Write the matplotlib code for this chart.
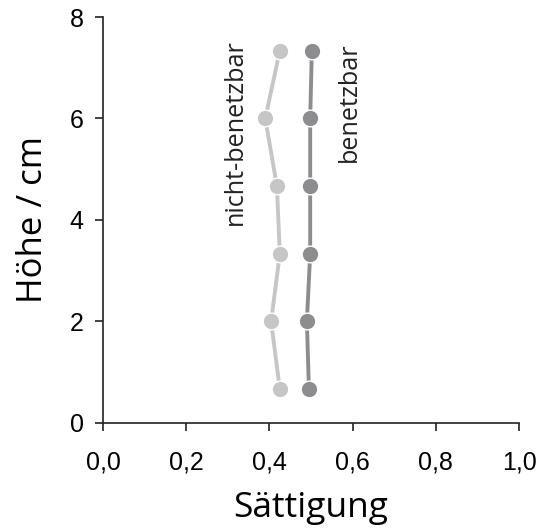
import matplotlib.pyplot as plt
from matplotlib.ticker import FuncFormatter

# Höhe in cm, Sättigung je Probe
hoehe = [2/3, 2.0, 10/3, 14/3, 6.0, 22/3]
saett_nicht = [0.425, 0.404, 0.425, 0.418, 0.390, 0.425]
saett_benetz = [0.495, 0.490, 0.498, 0.498, 0.498, 0.502]

xticks = [0.0, 0.2, 0.4, 0.6, 0.8, 1.0]
yticks = [0, 2, 4, 6, 8]

fig = plt.figure(figsize=(5.38, 5.28), dpi=100)
ax = fig.add_axes([0.1915, 0.1989, 0.7732, 0.7689])

ax.plot(saett_nicht, hoehe, color='#c6c6c6', lw=2.8, marker='o', ms=12,
        markeredgecolor='white', markeredgewidth=1.0, zorder=3)
ax.plot(saett_benetz, hoehe, color='#8d8d8f', lw=2.8, marker='o', ms=12,
        markeredgecolor='white', markeredgewidth=1.0, zorder=3)

ax.text(0.317, 5.73, 'nicht-benetzbar', rotation=90, ha='center', va='center',
        fontsize=18.2, family='Open Sans', color='#222222')
ax.text(0.593, 6.32, 'benetzbar', rotation=90, ha='center', va='center',
        fontsize=18.2, family='Open Sans', color='#222222')

ax.set_xlim(0, 1)
ax.set_ylim(0, 8)
ax.set_xticks(xticks)
ax.set_yticks(yticks)
ax.xaxis.set_major_formatter(FuncFormatter(lambda v, p: f'{v:.1f}'.replace('.', ',')))
ax.spines['top'].set_visible(False)
ax.spines['right'].set_visible(False)
for s in ['left', 'bottom']:
    ax.spines[s].set_linewidth(1.2)
    ax.spines[s].set_color('#222222')
ax.tick_params(direction='out', length=6, width=1.2, color='#222222',
               labelsize=18)
ax.tick_params(axis='x', pad=14)
ax.tick_params(axis='y', pad=8)
for lab in ax.get_xticklabels() + ax.get_yticklabels():
    lab.set_family('Liberation Sans')

ax.set_xlabel('Sättigung', fontsize=25.5, family='Open Sans', labelpad=12)
ax.set_ylabel('Höhe / cm', fontsize=25, family='Open Sans', labelpad=14)

fig.savefig('out.png', dpi=100)
